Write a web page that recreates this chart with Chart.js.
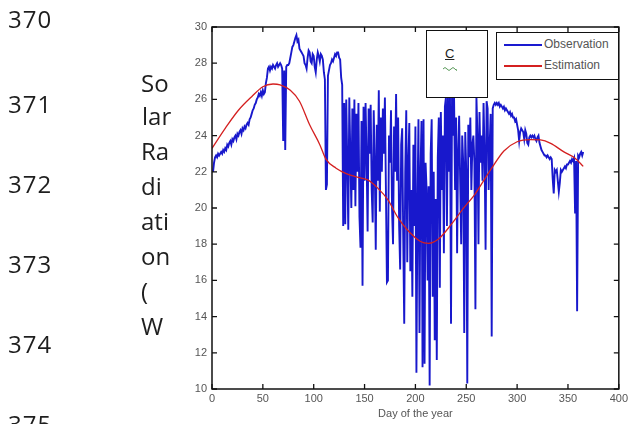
<!DOCTYPE html>
<html>
<head>
<meta charset="utf-8">
<script src="https://cdn.jsdelivr.net/npm/chart.js@4/dist/chart.umd.min.js"></script>
<style>
  html, body { margin: 0; padding: 0; background: #fff; }
  #page { position: relative; width: 631px; height: 424px; overflow: hidden; background: #fff; }
  #chartCanvas { position: absolute; left: 0; top: 0; }
  .ln { position: absolute; font-family: "Open Sans", "Liberation Sans", sans-serif; font-size: 24px; line-height: 24px; color: #1e1e1e; white-space: nowrap; }
  .num { letter-spacing: 1px; }
  .box { position: absolute; background: #fff; border: 1.5px solid #111; box-sizing: border-box; }
  .legtxt { position: absolute; font-family: "Liberation Sans", Arial, sans-serif; font-size: 12px; line-height: 13px; color: #555; white-space: nowrap; }
  .legline { position: absolute; height: 1.6px; }
</style>
</head>
<body>
<div id="page">
  <canvas id="chartCanvas" width="631" height="424"></canvas>

  <div class="ln num" style="left:8px; top:7px;">370</div>
  <div class="ln num" style="left:8px; top:92px;">371</div>
  <div class="ln num" style="left:8px; top:172px;">372</div>
  <div class="ln num" style="left:8px; top:252px;">373</div>
  <div class="ln num" style="left:8px; top:332px;">374</div>
  <div class="ln num" style="left:8px; top:412px;">375</div>

  <div class="ln" style="left:141px; top:71px;">So</div>
  <div class="ln" style="left:142px; top:104px;">lar</div>
  <div class="ln" style="left:141px; top:139px;">Ra</div>
  <div class="ln" style="left:141px; top:174px;">di</div>
  <div class="ln" style="left:141px; top:209px;">ati</div>
  <div class="ln" style="left:141px; top:244px;">on</div>
  <div class="ln" style="left:141px; top:279px;">(</div>
  <div class="ln" style="left:141px; top:314px;">W</div>

  <div class="box" style="left:426px; top:30px; width:62px; height:68px;">
    <div style="position:absolute; left:18px; top:16px; font-family:'Liberation Sans',Arial,sans-serif; font-size:13px; line-height:14px; color:#222; text-decoration:underline;">C</div>
    <svg style="position:absolute; left:16px; top:35px;" width="14" height="6"><path d="M0 3 Q2 0 4 3 T8 3 T12 3 T14 3" stroke="#5a9a5a" stroke-width="1" fill="none"/></svg>
  </div>

  <div class="box" style="left:496px; top:32px; width:123px; height:48px;">
    <div class="legline" style="left:7px; top:11px; width:38px; background:#1a1ad0;"></div>
    <div class="legtxt" style="left:47px; top:5px;">Observation</div>
    <div class="legline" style="left:7px; top:32px; width:38px; background:#d42020;"></div>
    <div class="legtxt" style="left:47px; top:26px;">Estimation</div>
  </div>
</div>

<script>
// ---------- DATA ----------
const xTicks = [0, 50, 100, 150, 200, 250, 300, 350, 400];
const yTicks = [10, 12, 14, 16, 18, 20, 22, 24, 26, 28, 30];

// Observation: one value per day, day 1 .. 365
const obsValues = [
  22.0, 22.5, 22.8, 22.9, 22.8, 23.0, 22.9, 23.0, 23.1, 23.0,
  23.2, 23.1, 23.3, 23.2, 23.5, 23.4, 23.6, 23.7, 23.5, 23.8,
  23.7, 23.9, 24.0, 23.8, 24.1, 24.0, 24.2, 24.3, 24.1, 24.4,
  24.3, 24.5, 24.4, 24.6, 24.7, 24.6, 24.9, 25.0, 25.2, 25.4,
  25.5, 25.7, 25.8, 26.0, 26.1, 26.3, 26.2, 26.4, 26.2, 26.5,
  26.3, 26.4, 26.9, 27.2, 27.7, 27.8, 27.6, 27.8, 27.7, 27.9,
  27.8, 27.7, 27.9, 28.0, 27.8, 27.9, 28.0, 27.9, 27.7, 23.7,
  27.6, 23.2, 27.8, 27.9, 27.9, 28.0, 28.3, 28.6, 28.9, 29.0,
  29.2, 29.4, 29.55, 29.2, 29.3, 28.8, 28.7, 28.6, 28.5, 28.4,
  28.0, 27.9, 27.7, 28.3, 28.7, 28.6, 28.1, 28.0, 28.5, 28.4,
  27.8, 27.5, 28.2, 28.6, 28.4, 28.1, 28.5, 28.4, 28.2, 27.5,
  27.1, 21.0, 21.3, 27.3, 27.6, 27.9, 28.0, 28.2, 28.1, 28.3,
  28.5, 28.4, 28.6, 28.6, 28.3, 28.2, 27.2, 26.8, 19.0, 25.8,
  19.1, 26.0, 22.5, 18.8, 26.1, 23.0, 20.0, 25.5, 21.0, 26.0,
  20.1, 25.2, 22.0, 25.8, 19.5, 17.8, 24.8, 15.7, 25.6, 21.5,
  25.8, 22.8, 18.7, 25.5, 23.0, 25.7, 21.0, 19.2, 25.4, 22.5,
  17.7, 24.6, 21.5, 26.5, 19.8, 25.0, 22.0, 25.5, 23.0, 26.1,
  21.0, 15.9, 16.0, 24.0, 22.5, 25.4, 20.0, 18.0, 24.5, 22.0,
  26.3, 21.5, 25.0, 19.0, 16.6, 23.5, 24.4, 18.5, 13.6, 22.0,
  25.4, 17.0, 22.5, 24.7, 16.5, 21.0, 15.1, 23.5, 19.0, 24.5,
  10.9, 20.0, 24.9, 13.1, 22.0, 24.8, 11.2, 24.9, 11.4, 22.5,
  21.0, 16.0, 21.2, 10.2, 23.0, 24.9, 15.1, 22.0, 12.7, 20.5,
  11.6, 22.8, 25.0, 15.6, 25.3, 21.0, 24.0, 17.5, 25.6, 26.1,
  19.0, 26.2, 22.0, 26.1, 13.6, 26.2, 24.0, 26.1, 21.0, 25.0,
  17.5, 23.0, 25.1, 21.5, 18.0, 24.0, 22.5, 13.1, 24.2, 22.0,
  10.3, 24.6, 22.8, 25.0, 21.0, 23.5, 24.0, 22.5, 14.4, 26.1,
  24.0, 18.0, 25.3, 22.5, 24.0, 21.5, 25.8, 23.0, 17.7, 25.9,
  25.5, 21.0, 23.5, 25.2, 12.9, 25.5, 25.7, 25.8, 25.7, 25.8,
  25.7, 25.8, 25.6, 25.7, 25.6, 25.5, 25.6, 25.4, 25.5, 25.4,
  25.3, 25.2, 25.3, 25.1, 25.2, 25.0, 25.0, 24.8, 24.9, 24.6,
  24.3, 23.7, 24.2, 24.4, 24.3, 24.2, 23.8, 24.3, 24.1, 23.6,
  23.5, 23.9, 24.0, 23.9, 24.0, 23.9, 24.0, 23.8, 23.7, 23.9,
  24.0, 23.6, 23.4, 23.2, 23.1, 23.0, 22.9, 22.9, 22.8, 22.9,
  22.8, 22.7, 22.8, 22.7, 21.6, 20.8, 22.1, 22.0, 22.1, 21.5,
  20.9, 21.4, 22.1, 22.0, 22.1, 22.2, 22.3, 22.2, 22.4, 22.4,
  22.5, 22.6, 22.5, 22.7, 22.6, 22.75, 19.7, 22.6, 14.3, 22.9,
  22.8, 23.0, 23.1, 22.9, 23.1
];
const obsFirstDay = 1;

// Estimation: smooth curve read at these days
const estDays   = [0, 13, 26, 39, 50, 60, 67, 77, 86, 96, 106, 112, 122, 132, 142, 153, 163, 173, 183, 192, 205, 213, 223, 236, 246, 259, 267, 275, 287, 300, 313, 323, 333, 346, 357, 365];
const estValues = [23.3, 24.4, 25.4, 26.15, 26.7, 26.85, 26.8, 26.5, 25.9, 24.6, 23.5, 22.7, 22.2, 21.9, 21.72, 21.55, 21.1, 20.45, 19.45, 18.8, 18.15, 18.05, 18.3, 19.15, 19.9, 20.8, 21.5, 22.2, 23.15, 23.66, 23.78, 23.76, 23.57, 23.1, 22.75, 22.3];

// ---------- BUILD ----------
const obsPoints = obsValues.map((v, i) => ({ x: obsFirstDay + i, y: v }));
const estPoints = estDays.map((d, i) => ({ x: d, y: estValues[i] }));

const tickFont = { family: "'Liberation Sans', Arial, sans-serif", size: 11 };
const tickColor = '#555';

const framePlugin = {
  id: 'matlabFrame',
  afterDatasetsDraw(chart) {
    const { ctx, chartArea: a, scales } = chart;
    ctx.save();
    ctx.strokeStyle = '#111';
    ctx.lineWidth = 1.5;
    ctx.strokeRect(a.left, a.top, a.right - a.left, a.bottom - a.top);
    ctx.lineWidth = 1.3;
    const tl = 5;
    ctx.beginPath();
    scales.x.ticks.forEach(t => {
      const px = scales.x.getPixelForValue(t.value);
      ctx.moveTo(px, a.bottom); ctx.lineTo(px, a.bottom - tl);
      ctx.moveTo(px, a.top); ctx.lineTo(px, a.top + tl);
    });
    scales.y.ticks.forEach(t => {
      const py = scales.y.getPixelForValue(t.value);
      ctx.moveTo(a.left, py); ctx.lineTo(a.left + tl, py);
      ctx.moveTo(a.right, py); ctx.lineTo(a.right - tl, py);
    });
    ctx.stroke();
    ctx.restore();
  }
};

new Chart(document.getElementById('chartCanvas'), {
  type: 'line',
  data: {
    datasets: [
      {
        label: 'Estimation',
        data: estPoints,
        borderColor: '#d42020',
        borderWidth: 1.3,
        pointRadius: 0,
        tension: 0,
        cubicInterpolationMode: 'monotone',
        order: 0
      },
      {
        label: 'Observation',
        data: obsPoints,
        borderColor: '#1818cc',
        borderWidth: 1.9,
        pointRadius: 0,
        tension: 0,
        order: 1
      }
    ]
  },
  options: {
    responsive: false,
    animation: false,
    layout: { padding: { left: 0, top: 27, right: 11, bottom: 0 } },
    plugins: { legend: { display: false }, tooltip: { enabled: false } },
    scales: {
      x: {
        type: 'linear',
        min: 0, max: 400,
        afterBuildTicks: (s) => { s.ticks = xTicks.map(v => ({ value: v })); },
        ticks: { font: tickFont, color: tickColor, padding: 3, maxRotation: 0, autoSkip: false },
        grid: { display: false, drawTicks: false },
        border: { display: false },
        title: { display: true, text: 'Day of the year', font: tickFont, color: tickColor, padding: { top: 0, bottom: 3 } },
        afterFit: (s) => { s.height = 35; }
      },
      y: {
        type: 'linear',
        min: 10, max: 30,
        afterBuildTicks: (s) => { s.ticks = yTicks.map(v => ({ value: v })); },
        ticks: { font: tickFont, color: tickColor, padding: 5, autoSkip: false },
        grid: { display: false, drawTicks: false },
        border: { display: false },
        afterFit: (s) => { s.width = 212; }
      }
    }
  },
  plugins: [framePlugin]
});
</script>
</body>
</html>
